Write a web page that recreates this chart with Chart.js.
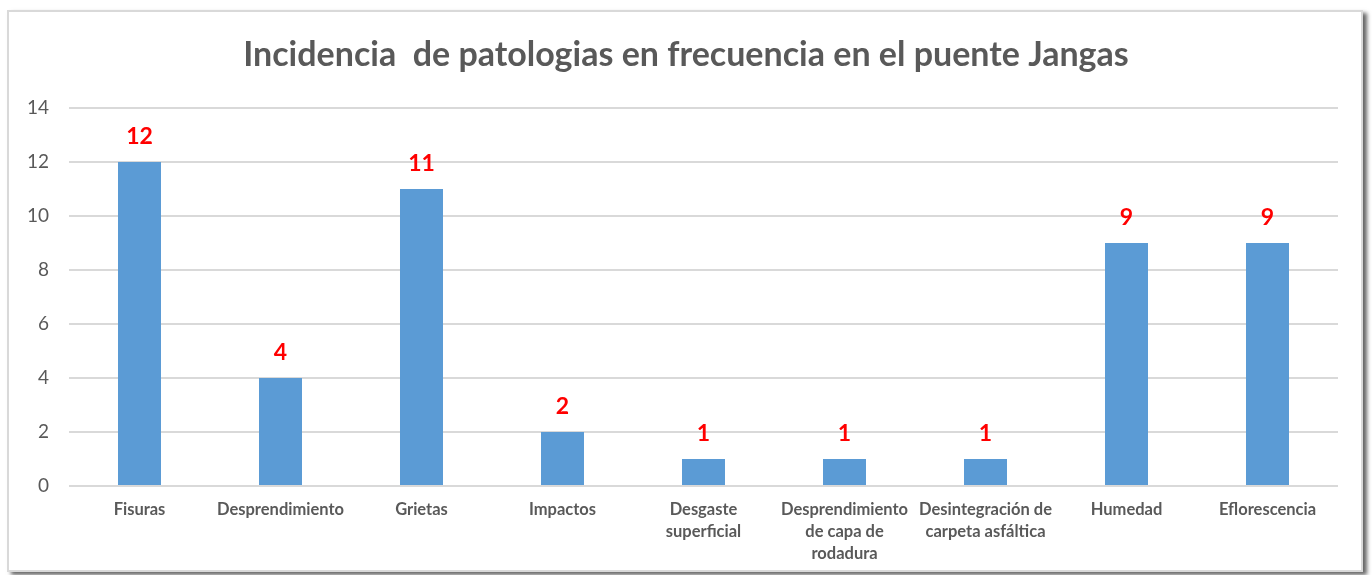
<!DOCTYPE html>
<html>
<head>
<meta charset="utf-8">
<script src="https://cdn.jsdelivr.net/npm/chart.js@4"></script>
<style>
  html, body { margin: 0; padding: 0; background: #ffffff; }
  #wrap { position: relative; width: 1372px; height: 575px; overflow: hidden; }
  #frame {
    position: absolute; left: 7px; top: 10px; width: 1352px; height: 558px;
    background: #ffffff; border: 2px solid #d9d9d9;
    box-shadow: 4px 3px 4px rgba(0,0,0,0.6);
  }
  #chart { position: absolute; left: 0; top: 0; }
</style>
</head>
<body>
<div id="wrap">
  <div id="frame"></div>
  <canvas id="chart" width="1372" height="575"></canvas>
</div>
<script>
const titleText = 'Incidencia  de patologias en frecuencia en el puente Jangas';
const categories = [
  'Fisuras',
  'Desprendimiento',
  'Grietas',
  'Impactos',
  ['Desgaste', 'superficial'],
  ['Desprendimiento', 'de capa de', 'rodadura'],
  ['Desintegración de', 'carpeta asfáltica'],
  'Humedad',
  'Eflorescencia'
];
const frequencies = [12, 4, 11, 2, 1, 1, 1, 9, 9];
const yTicks = [0, 2, 4, 6, 8, 10, 12, 14];

const FONT = 'Lato, "Open Sans", sans-serif';
const GREY = '#595959';

// Title drawn centred above the plot
const titlePlugin = {
  id: 'topTitle',
  afterDraw(chart) {
    const ctx = chart.ctx;
    ctx.save();
    ctx.font = 'bold 34px ' + FONT;
    ctx.fillStyle = GREY;
    ctx.textAlign = 'center';
    ctx.textBaseline = 'middle';
    ctx.fillText(titleText, 686, 55);
    ctx.restore();
  }
};

// Red value labels above each bar
const valueLabels = {
  id: 'valueLabels',
  afterDatasetsDraw(chart) {
    const ctx = chart.ctx;
    const meta = chart.getDatasetMeta(0);
    ctx.save();
    ctx.font = 'bold 23px ' + FONT;
    ctx.fillStyle = '#ff0000';
    ctx.textAlign = 'center';
    ctx.textBaseline = 'middle';
    meta.data.forEach((bar, i) => {
      ctx.fillText(String(frequencies[i]), bar.x, bar.y - 25);
    });
    ctx.restore();
  }
};

new Chart(document.getElementById('chart'), {
  type: 'bar',
  data: {
    labels: categories,
    datasets: [{
      data: frequencies,
      backgroundColor: '#5b9bd5',
      borderWidth: 0,
      categoryPercentage: 1,
      barPercentage: 0.305
    }]
  },
  options: {
    responsive: false,
    animation: false,
    layout: { padding: { top: 108, right: 34, bottom: 0, left: 0 } },
    plugins: { legend: { display: false }, tooltip: { enabled: false } },
    scales: {
      x: {
        grid: { display: false, drawTicks: false },
        border: { display: false },
        ticks: {
          color: GREY,
          font: { family: FONT, size: 16.5, weight: 'bold', lineHeight: 1.33 },
          padding: 13,
          maxRotation: 0,
          autoSkip: false
        },
        afterFit(scale) { scale.height = 89; }
      },
      y: {
        min: 0,
        max: 14,
        afterBuildTicks(scale) { scale.ticks = yTicks.map(v => ({ value: v })); },
        grid: { color: '#d9d9d9', lineWidth: 2, drawTicks: false },
        border: { display: false },
        ticks: {
          color: GREY,
          font: { family: FONT, size: 19 },
          padding: 20
        },
        afterFit(scale) { scale.width = 69; }
      }
    }
  },
  plugins: [titlePlugin, valueLabels]
});
</script>
</body>
</html>
